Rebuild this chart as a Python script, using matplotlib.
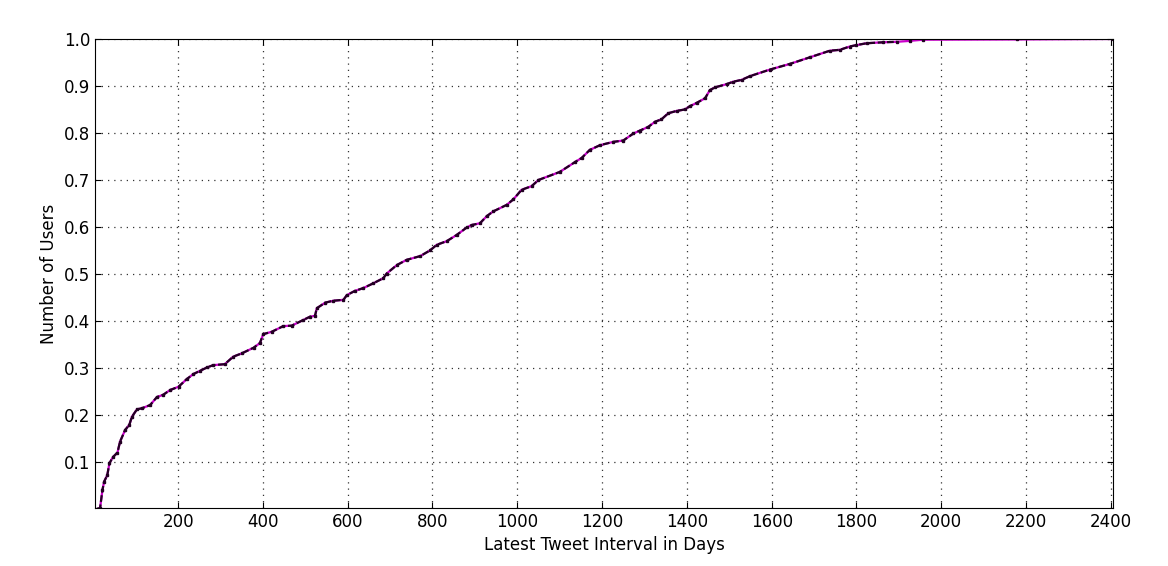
import numpy as np
import matplotlib
matplotlib.use("Agg")
import matplotlib.pyplot as plt

# cumulative fraction of users vs latest tweet interval (days)
days = [9, 16, 21.5, 25.5, 33, 38, 46, 57, 63, 75, 85, 91, 103, 114, 134, 150, 165, 181,
        201, 220, 236, 252, 268, 283, 310, 330, 350, 378, 393, 401, 421, 448, 468, 495,
        511, 523, 527, 547, 566, 590, 598, 617, 637, 660, 684, 692, 716, 739, 771, 794,
        810, 834, 857, 881, 892, 912, 928, 943, 975, 991, 1010, 1034, 1050, 1100, 1136,
        1152, 1171, 1195, 1226, 1250, 1274, 1289, 1309, 1325, 1340, 1356, 1376, 1395,
        1407, 1423, 1443, 1454, 1466, 1494, 1509, 1529, 1549, 1596, 1643, 1690, 1737,
        1761, 1784, 1800, 1824, 1863, 1895, 1926, 1957, 2178, 2404]
users = [0.0, 0.002, 0.040, 0.058, 0.072, 0.097, 0.110, 0.120, 0.143, 0.168, 0.179, 0.196,
         0.212, 0.214, 0.221, 0.238, 0.243, 0.253, 0.260, 0.276, 0.287, 0.294, 0.301,
         0.306, 0.308, 0.324, 0.331, 0.343, 0.353, 0.372, 0.377, 0.389, 0.390, 0.402,
         0.409, 0.411, 0.427, 0.439, 0.443, 0.445, 0.455, 0.464, 0.470, 0.480, 0.491,
         0.501, 0.519, 0.530, 0.538, 0.550, 0.562, 0.570, 0.583, 0.599, 0.604, 0.608,
         0.623, 0.633, 0.647, 0.659, 0.679, 0.687, 0.700, 0.717, 0.738, 0.747, 0.764,
         0.774, 0.781, 0.784, 0.799, 0.805, 0.813, 0.824, 0.829, 0.842, 0.847, 0.850,
         0.857, 0.864, 0.874, 0.891, 0.897, 0.904, 0.909, 0.913, 0.921, 0.935, 0.947,
         0.961, 0.975, 0.977, 0.984, 0.987, 0.991, 0.993, 0.994, 0.996, 0.9985, 0.999, 1.0]
xticks = [200, 400, 600, 800, 1000, 1200, 1400, 1600, 1800, 2000, 2200, 2400]
yticks = [0.1, 0.2, 0.3, 0.4, 0.5, 0.6, 0.7, 0.8, 0.9, 1.0]

plt.rcParams['font.family'] = 'DejaVu Sans'
fig = plt.figure(figsize=(11.68, 5.66), dpi=100)
ax = fig.add_axes([95/1168, 58/566, (1113-95)/1168, (508-39)/566])

ax.plot(days, users, color='#cc00cc', lw=1.6)
# dark dashes over the magenta line, only up to where the curve flattens
n = 97
ax.plot(days[:n], users[:n], color='#220022', lw=1.6, dashes=(3, 1.2))
ax.plot(days, users, ls='none', marker='s', ms=1.6, color='#220022', mec='#220022')

ax.set_xlim(4, 2405)
ax.set_ylim(0.002, 1.0)
ax.set_xticks(xticks)
ax.set_yticks(yticks)
ax.set_yticklabels(["%.1f" % t for t in yticks])
ax.tick_params(direction='in', top=True, right=True, labelsize=12, length=4)
ax.grid(True, color='#333333', ls=(0, (1, 4)), lw=0.9)
ax.set_xlabel("Latest Tweet Interval in Days", fontsize=12)
ax.set_ylabel("Number of Users", fontsize=12)

fig.savefig("out.png", dpi=100)
